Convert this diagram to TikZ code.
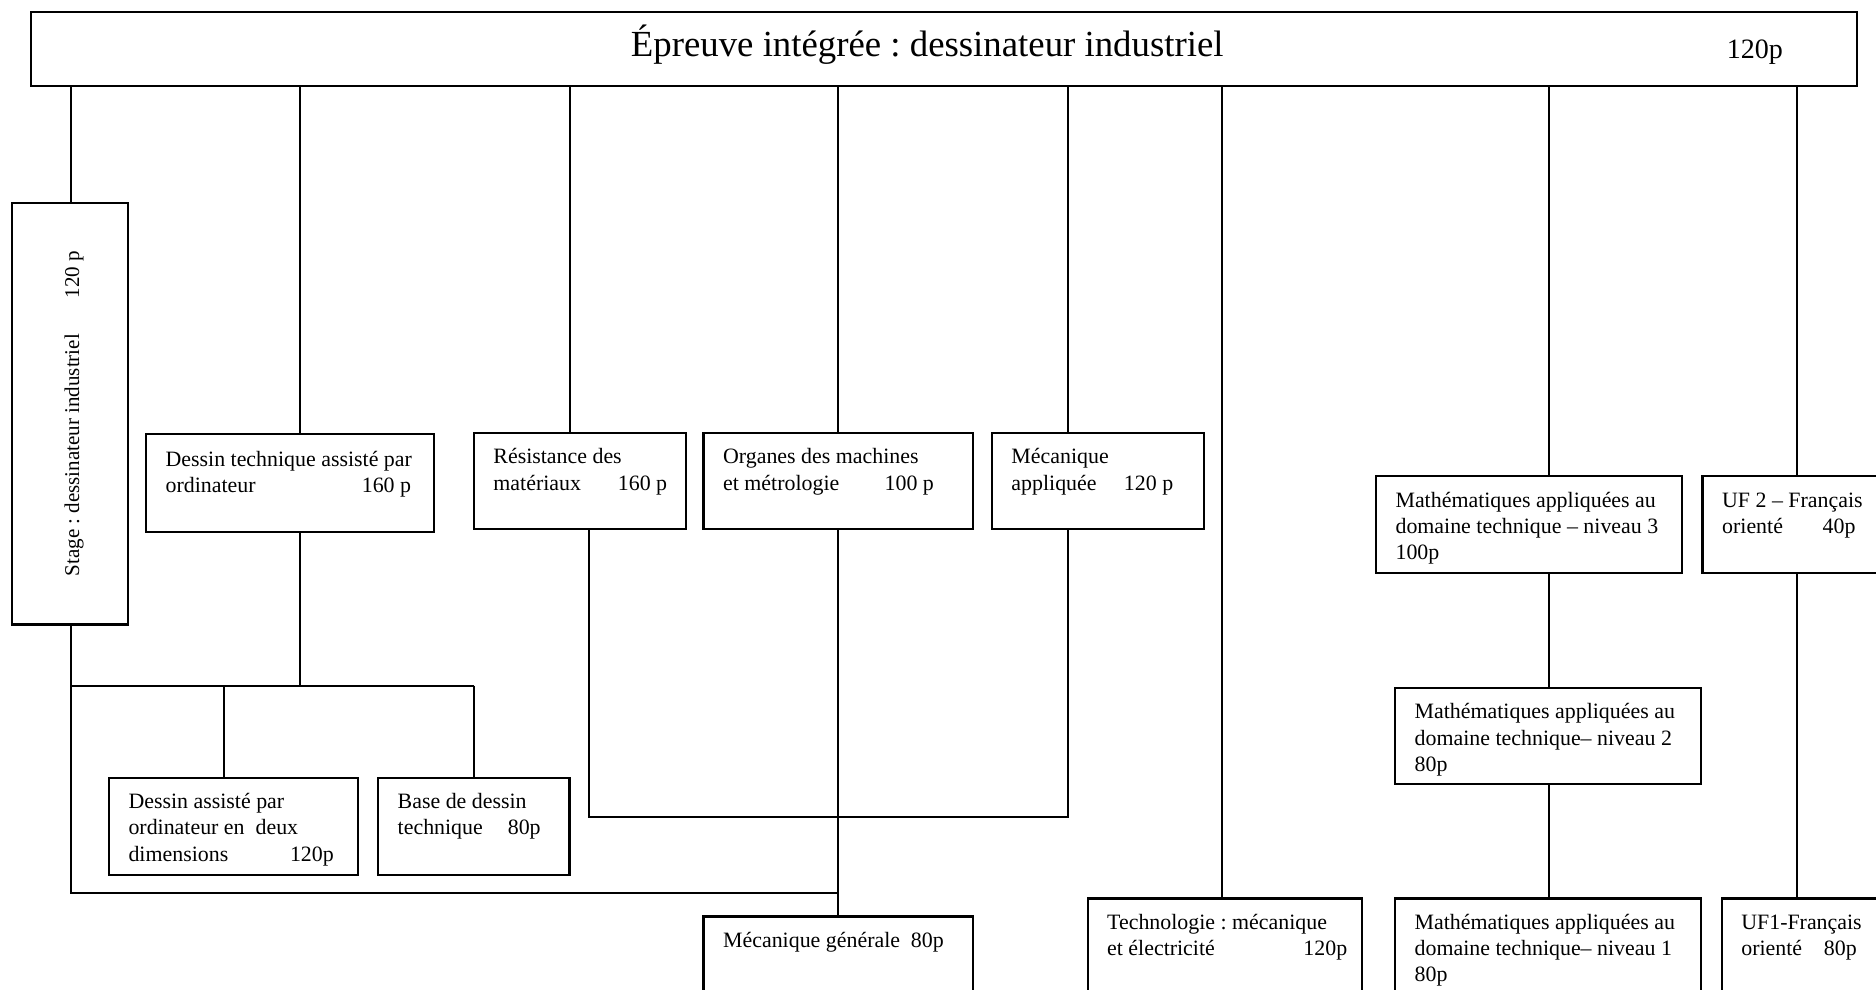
\documentclass[tikz,border=0pt]{standalone}
\usepackage{fontspec}
\setmainfont{Liberation Serif}
\usetikzlibrary{fit, calc}
\newlength{\pxu}
\setlength{\pxu}{0.024cm}
\newcommand{\tabbox}[2]{\makebox[#1\pxu][l]{#2}}
\frenchspacing

\begin{document}
\begin{tikzpicture}[x=0.024cm, y=-0.024cm,
  box/.style={draw, line width=1.2pt, inner sep=0pt},
  lbl/.style={anchor=north west, inner sep=0pt, align=left, font=\fontsize{12.5}{15}\selectfont},
  link/.style={line width=1.15pt}]
\fill[white] (0,0) rectangle (1568,827);
\useasboundingbox (0,0) rectangle (1568,827);
\clip (0,0) rectangle (1568,827);

%title box
\node[box, fit={(26,10) (1552,72)}] (top) {};
\node[anchor=base, inner sep=0pt, font=\fontsize{21}{25}\selectfont] (ttl) at (775,47) {Épreuve intégrée : dessinateur industriel};
\node[anchor=base west, inner sep=0pt, font=\fontsize{16}{19}\selectfont] (ttlh) at (1443,49) {120p};

%x of the links
\coordinate (cStage) at (59,0);
\coordinate (cDtao) at (251,0);
\coordinate (cDao) at (187,0);
\coordinate (cBase) at (396,0);
\coordinate (cRes) at (476,0);
\coordinate (cResB) at (492,0);
\coordinate (cOrg) at (700,0);
\coordinate (cMeca) at (893,0);
\coordinate (cTech) at (1021,0);
\coordinate (cMath) at (1295,0);
\coordinate (cUf) at (1502,0);
\coordinate (jDtao) at (251,573);
\coordinate (jMid) at (893,683);
\coordinate (jLow) at (701,746);

%stage
\node[box, fit={(10,170) (107,522)}] (stage) {};
\node[rotate=90, anchor=west, inner sep=0pt, font=\fontsize{12}{14}\selectfont] (stage-t) at (62,482) {Stage : dessinateur industriel\hspace{30\pxu}120 p};

%modules
\node[box, fit={(122,363) (363,445)}] (dtao) {};
\node[box, fit={(396,362) (573,442)}] (res) {};
\node[box, fit={(588,362) (813,442)}] (org) {};
\node[box, fit={(829,362) (1006,442)}] (meca) {};
\node[box, fit={(1150,398) (1406,479)}] (math3) {};
\node[box, fit={(1423,398) (1600,479)}] (uf2) {};
\node[box, fit={(1166,575) (1422,655)}] (math2) {};
\node[box, fit={(91,650) (299,731)}] (dao) {};
\node[box, fit={(316,650) (476,731)}] (base) {};
\node[box, fit={(588,766) (813,850)}] (mgen) {};
\node[box, fit={(909,751) (1138,850)}] (techno) {};
\node[box, fit={(1166,751) (1422,850)}] (math1) {};
\node[box, fit={(1439,751) (1600,850)}] (uf1) {};

\node[lbl] (dtao-t) at ([shift={(17,12)}]dtao.north west) {\strut Dessin technique assisté par\\\tabbox{164}{ordinateur}160 p};
\node[lbl] (res-t) at ([shift={(17,11)}]res.north west) {\strut Résistance des\\\tabbox{104}{matériaux}160 p};
\node[lbl] (org-t) at ([shift={(17,11)}]org.north west) {\strut Organes des machines\\\tabbox{135}{et métrologie}100 p};
\node[lbl] (meca-t) at ([shift={(17,11)}]meca.north west) {\strut Mécanique\\\tabbox{94}{appliquée}120 p};
\node[lbl] (math3-t) at ([shift={(17,11)}]math3.north west) {\strut Mathématiques appliquées au\\domaine technique – niveau 3\\100p};
\node[lbl] (uf2-t) at ([shift={(17,11)}]uf2.north west) {\strut UF 2 – Français\\\tabbox{84}{orienté}40p};
\node[lbl] (math2-t) at ([shift={(17,11)}]math2.north west) {\strut Mathématiques appliquées au\\domaine technique– niveau 2\\80p};
\node[lbl] (dao-t) at ([shift={(17,11)}]dao.north west) {\strut Dessin assisté par\\ordinateur en~ deux\\\tabbox{135}{dimensions}120p};
\node[lbl] (base-t) at ([shift={(17,11)}]base.north west) {\strut Base de dessin\\\tabbox{92}{technique}80p};
\node[lbl] (mgen-t) at ([shift={(17,11)}]mgen.north west) {\strut\tabbox{157}{Mécanique générale}80p};
\node[lbl] (techno-t) at ([shift={(17,11)}]techno.north west) {\strut Technologie : mécanique\\\tabbox{164}{et électricité}120p};
\node[lbl] (math1-t) at ([shift={(17,11)}]math1.north west) {\strut Mathématiques appliquées au\\domaine technique– niveau 1\\80p};
\node[lbl] (uf1-t) at ([shift={(17,11)}]uf1.north west) {\strut UF1-Français\\\tabbox{69}{orienté}80p};

%links from the title
\draw[link] (top.south -| cStage) -- (stage.north -| cStage);
\draw[link] (top.south -| cDtao) -- (dtao.north -| cDtao);
\draw[link] (top.south -| cRes) -- (res.north -| cRes);
\draw[link] (top.south -| cOrg) -- (org.north -| cOrg);
\draw[link] (top.south -| cMeca) -- (meca.north -| cMeca);
\draw[link] (top.south -| cTech) -- (techno.north -| cTech);
\draw[link] (top.south -| cMath) -- (math3.north -| cMath);
\draw[link] (top.south -| cUf) -- (uf2.north -| cUf);

%lower links
\draw[link] (dtao.south -| cDtao) -- (jDtao);
\draw[link] (stage.south -| cStage) -- (cStage |- jLow) -- (jLow);
\draw[link] (cStage |- jDtao) -- (cBase |- jDtao);
\draw[link] (cDao |- jDtao) -- (dao.north -| cDao);
\draw[link] (cBase |- jDtao) -- (base.north -| cBase);
\draw[link] (res.south -| cResB) -- (cResB |- jMid) -- (jMid) -- (meca.south -| cMeca);
\draw[link] (org.south -| cOrg) -- (mgen.north -| cOrg);
\draw[link] (math3.south -| cMath) -- (math2.north -| cMath);
\draw[link] (math2.south -| cMath) -- (math1.north -| cMath);
\draw[link] (uf2.south -| cUf) -- (uf1.north -| cUf);
\end{tikzpicture}
\end{document}
